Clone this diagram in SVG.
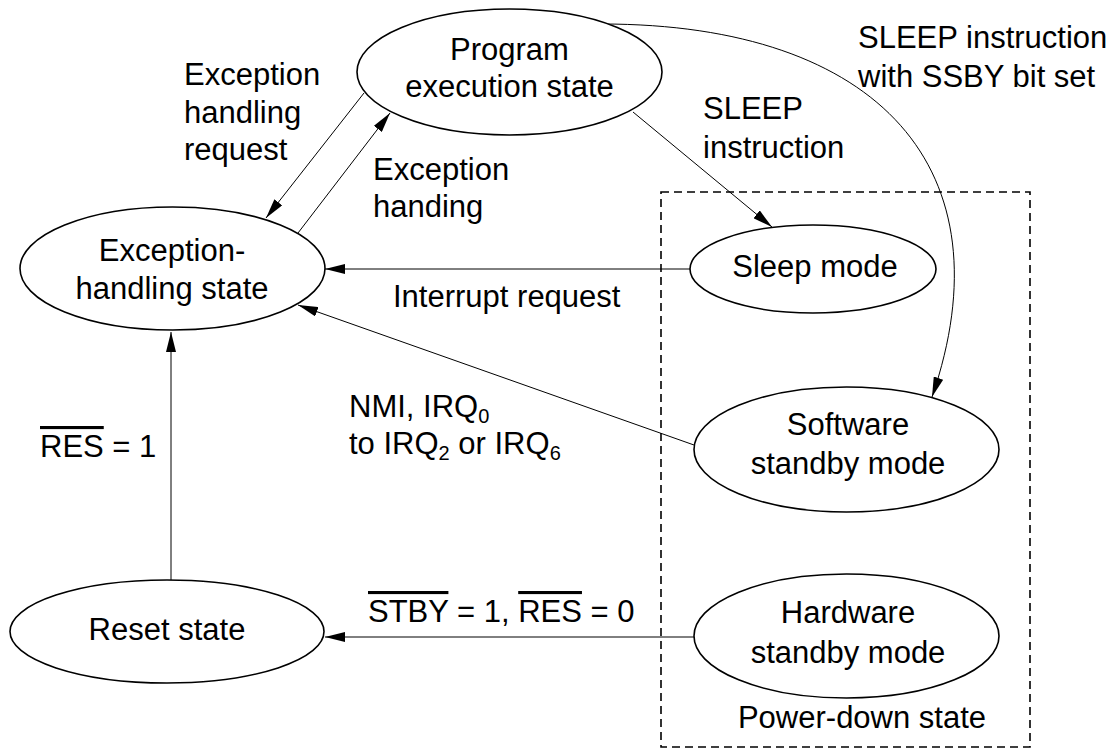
<svg xmlns="http://www.w3.org/2000/svg" width="1115" height="751" viewBox="0 0 1115 751">
<style>
text{font-family:"Liberation Sans",Arial,sans-serif;font-size:31px;fill:#000}
.c{text-anchor:middle}
.node ellipse{fill:#fff;stroke:#000;stroke-width:1.6}
.conn{fill:none;stroke:#000;stroke-width:1}
.ol{text-decoration:overline}
</style>
<defs>
<marker id="ah" markerUnits="userSpaceOnUse" markerWidth="20" markerHeight="10" refX="20" refY="5" orient="auto">
<path d="M0,0 L20,5 L0,10 z" fill="#000"/>
</marker>
</defs>
<rect id="powerdown" x="661" y="192" width="369" height="555" fill="none" stroke="#000" stroke-width="1.6" stroke-dasharray="8,5"/>
<g id="connectors" class="conn" marker-end="url(#ah)">
<line x1="364" y1="93" x2="266" y2="218"/>
<line x1="298" y1="233" x2="390" y2="113"/>
<line x1="633" y1="112" x2="772" y2="227"/>
<path d="M602,24 C880,24 1010,170 932,397"/>
<line x1="690" y1="269" x2="325" y2="269"/>
<line x1="694" y1="445" x2="298" y2="305"/>
<line x1="171" y1="580" x2="171" y2="332"/>
<line x1="694" y1="637" x2="325" y2="637"/>
</g>
<g id="program" class="node"><ellipse cx="509.5" cy="72" rx="152.5" ry="63"/><text class="c" x="509.5" y="60">Program</text><text class="c" x="509.5" y="97">execution state</text></g>
<g id="exception" class="node"><ellipse cx="172.5" cy="268.5" rx="152.5" ry="61.5"/><text class="c" x="172" y="261">Exception-</text><text class="c" x="172" y="299">handling state</text></g>
<g id="reset" class="node"><ellipse cx="167" cy="631.5" rx="157" ry="51.5"/><text class="c" x="167" y="640">Reset state</text></g>
<g id="sleep" class="node"><ellipse cx="813" cy="269" rx="123" ry="44"/><text class="c" x="815" y="277">Sleep mode</text></g>
<g id="software" class="node"><ellipse cx="846.5" cy="449.5" rx="152.5" ry="62.5"/><text class="c" x="848" y="435">Software</text><text class="c" x="848" y="474">standby mode</text></g>
<g id="hardware" class="node"><ellipse cx="846.5" cy="636" rx="152.5" ry="62"/><text class="c" x="848" y="623">Hardware</text><text class="c" x="848" y="663">standby mode</text></g>
<g id="labels">
<text x="184" y="85">Exception</text>
<text x="184" y="123">handling</text>
<text x="184" y="160">request</text>
<text x="373" y="180">Exception</text>
<text x="373" y="217">handing</text>
<text x="703" y="119">SLEEP</text>
<text x="703" y="158">instruction</text>
<text x="858" y="48">SLEEP instruction</text>
<text x="858" y="87">with SSBY bit set</text>
<text x="393" y="307">Interrupt request</text>
<text x="349" y="417">NMI, IRQ<tspan dy="6" font-size="20">0</tspan></text>
<text x="349" y="454">to IRQ<tspan dy="6" font-size="20">2</tspan><tspan dy="-6"> or IRQ</tspan><tspan dy="6" font-size="20">6</tspan></text>
<text x="40" y="457"><tspan class="ol">RES</tspan> = 1</text>
<text x="368" y="622"><tspan class="ol">STBY</tspan> = 1, <tspan class="ol">RES</tspan> = 0</text>
<text class="c" x="862" y="728">Power-down state</text>
</g>
</svg>
